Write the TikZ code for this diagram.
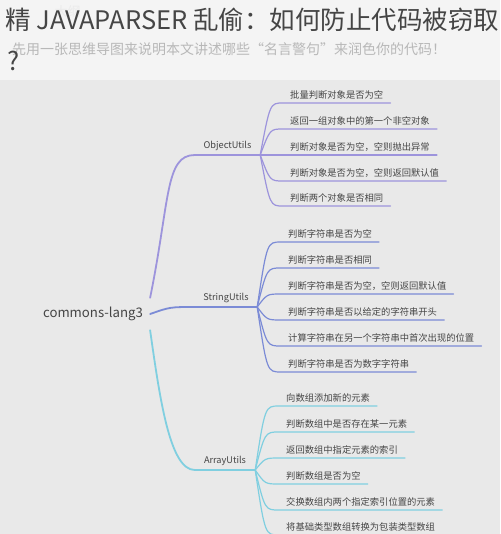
\documentclass[tikz,border=0pt]{standalone}
\usepackage{fontspec}
\setmainfont{Noto Sans CJK SC}
\definecolor{headbg}{HTML}{F4F4F4}
\definecolor{mapbg}{HTML}{E9E9E9}
\definecolor{objcol}{HTML}{9D94DC}
\definecolor{strcol}{HTML}{7B8BD6}
\definecolor{arrcol}{HTML}{80CFE0}
\definecolor{txtcol}{HTML}{454545}
\tikzset{
  leaf/.style={anchor=south west,inner xsep=7pt,inner ysep=2pt,text height=7pt,text depth=2pt,
    text=txtcol,font=\fontsize{9.3}{11}\selectfont},
  branch/.style={anchor=south,inner xsep=0pt,inner ysep=3pt,text depth=3pt,
    text=txtcol,font=\fontsize{9.2}{11}\selectfont},
  thinline/.style={line width=1.2pt,line cap=round},
  thickline/.style={line width=1.8pt,line cap=round}
}

\begin{document}
\begin{tikzpicture}[x=1pt,y=-1pt]
\fill[headbg] (0,0) rectangle (500,80);
\fill[mapbg] (0,80) rectangle (500,534);
\useasboundingbox (0,0) rectangle (500,534);
\node[anchor=base west,text=black!8,font=\fontsize{13}{13}\selectfont] (mark) at (51,17) {大纲};
\node[anchor=base west,inner sep=0pt,text=txtcol,font=\fontsize{25.5}{26}\selectfont] (title) at (5,30) {精 JAVAPARSER 乱偷：如何防止代码被窃取};
\node[anchor=base west,inner sep=0pt,text=black!28,font=\fontsize{14}{14}\selectfont] (sub) at (12,55) {先用一张思维导图来说明本文讲述哪些“名言警句”来润色你的代码！};
\node[anchor=base west,inner sep=0pt,text=txtcol,font=\fontsize{25.5}{26}\selectfont] (qmark) at (7,71) {?};

\node[inner xsep=7pt,minimum height=32pt,text=txtcol,font=\fontsize{13.2}{14}\selectfont] (root) at (93,314) {commons-lang3};

\node[branch,minimum width=65pt] (obj) at (227.5,155) {ObjectUtils};
\node[branch,minimum width=62pt] (str) at (226,307) {StringUtils};
\node[branch,minimum width=60pt] (arr) at (225,470) {ArrayUtils};
\draw[thickline,objcol] (root.north east) .. controls (170,200) and (165,155) .. (obj.south west) -- (obj.south east);
\draw[thickline,strcol] (root.east) .. controls (170,307) .. (str.south west) -- (str.south east);
\draw[thickline,arrcol] (root.south east) .. controls (160,400) and (170,470) .. (arr.south west) -- (arr.south east);

\foreach \y/\t [count=\i] in {103/批量判断对象是否为空,129/返回一组对象中的第一个非空对象,
  155/判断对象是否为空，空则抛出异常,181/判断对象是否为空，空则返回默认值,206/判断两个对象是否相同}{
  \node[leaf] (o\i) at (283,\y) {\t};
  \draw[thinline,objcol] (obj.south east) .. controls (270,\y) .. (o\i.south west) -- (o\i.south east);
}
\foreach \y/\t [count=\i] in {242/判断字符串是否为空,268/判断字符串是否相同,294/判断字符串是否为空，空则返回默认值,
  320/判断字符串是否以给定的字符串开头,346/计算字符串在另一个字符串中首次出现的位置,372/判断字符串是否为数字字符串}{
  \node[leaf] (s\i) at (281,\y) {\t};
  \draw[thinline,strcol] (str.south east) .. controls (267,\y) .. (s\i.south west) -- (s\i.south east);
}
\foreach \y/\t [count=\i] in {406/向数组添加新的元素,432/判断数组中是否存在某一元素,458/返回数组中指定元素的索引,
  484/判断数组是否为空,510/交换数组内两个指定索引位置的元素,535/将基础类型数组转换为包装类型数组}{
  \node[leaf] (a\i) at (279,\y) {\t};
  \draw[thinline,arrcol] (arr.south east) .. controls (265,\y) .. (a\i.south west) -- (a\i.south east);
}
\end{tikzpicture}
\end{document}
